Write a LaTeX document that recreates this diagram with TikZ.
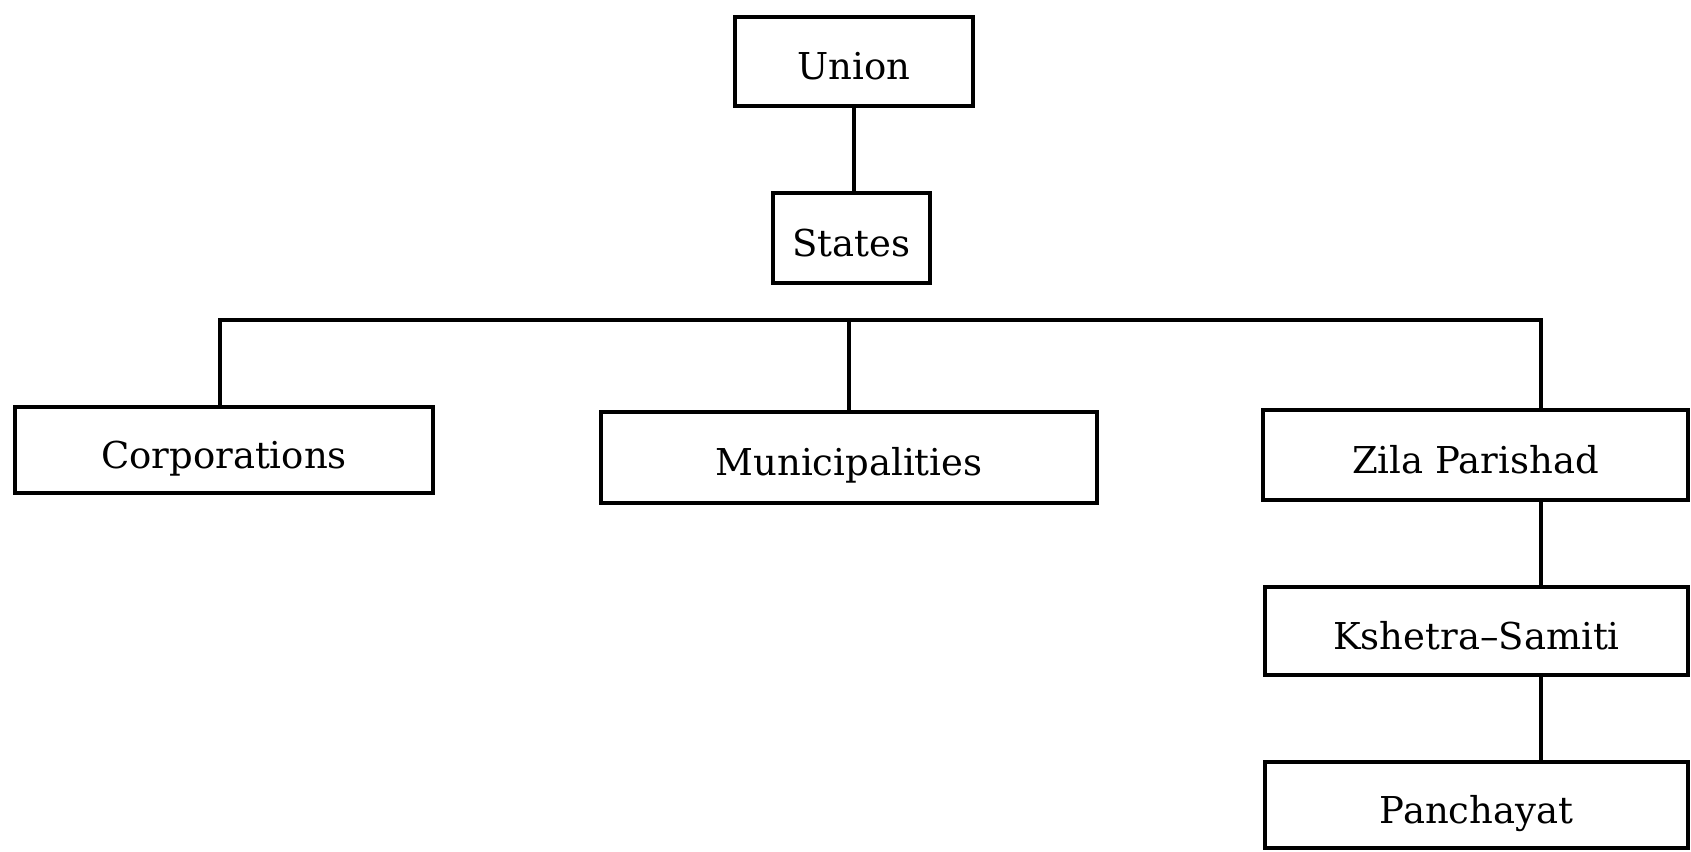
\documentclass[tikz,border=0pt]{standalone}
\usepackage{fontspec}
\setmainfont{DejaVu Serif}
\begin{document}
\begin{tikzpicture}[x=1pt,y=-1pt,
  box/.style={draw=black,line width=4pt,inner sep=0pt,outer sep=0pt,
    font=\fontsize{37}{44}\selectfont,text=black,text height=36pt,text depth=0pt},
  link/.style={draw=black,line width=4pt}]
\useasboundingbox (0,0) rectangle (1691,851);
\node[box,minimum width=238pt,minimum height=89pt] (union) at (854,61.5) {Union};
\node[box,minimum width=157pt,minimum height=90pt] (states) at (851.5,238) {States};
\node[box,minimum width=418pt,minimum height=86pt] (corp) at (224,450) {Corporations};
\node[box,minimum width=496pt,minimum height=91pt] (muni) at (849,457.5) {Municipalities};
\node[box,minimum width=425pt,minimum height=90pt] (zila) at (1475.5,455) {Zila Parishad};
\node[box,minimum width=423pt,minimum height=88pt] (kshetra) at (1476.5,631) {Kshetra--Samiti};
\node[box,minimum width=423pt,minimum height=86pt] (panch) at (1476.5,805) {Panchayat};
\coordinate (b1) at (220,320);
\coordinate (b2) at (849,320);
\coordinate (b3) at (1541,320);
\draw[link] (union.south) -- (union.south |- states.north);
\draw[link] (b1 |- corp.north) -- (b1) -- (b3) -- (b3 |- zila.north);
\draw[link] (b2) -- (muni.north);
\draw[link] (b3 |- zila.south) -- (b3 |- kshetra.north);
\draw[link] (b3 |- kshetra.south) -- (b3 |- panch.north);
\end{tikzpicture}
\end{document}
